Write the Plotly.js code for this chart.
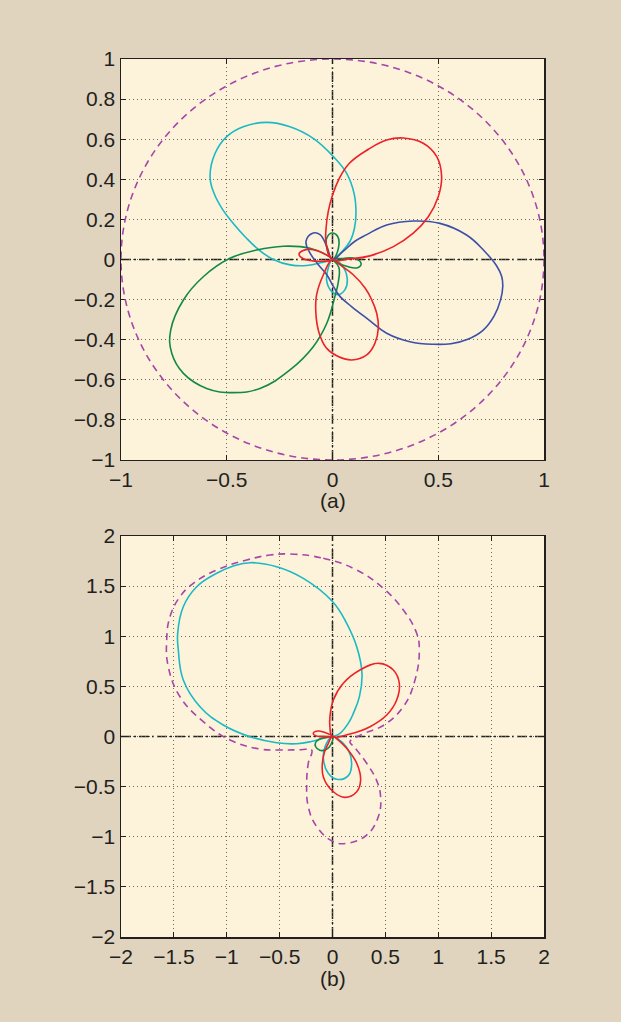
<!DOCTYPE html>
<html>
<head>
<meta charset="utf-8">
<script src="https://cdn.plot.ly/plotly-3.0.1.min.js"></script>
<style>
html,body{margin:0;padding:0;background:#e0d4be;}
#chart{width:621px;height:1022px;}
</style>
</head>
<body>
<div id="chart"></div>
<script>
// ---------- tick values / labels ----------
const xTickValsA = [-1, -0.5, 0, 0.5, 1];
const xTickTextA = ["\u22121", "\u22120.5", "0", "0.5", "1"];
const yTickValsA = [-1, -0.8, -0.6, -0.4, -0.2, 0, 0.2, 0.4, 0.6, 0.8, 1];
const yTickTextA = ["\u22121", "\u22120.8", "\u22120.6", "\u22120.4", "\u22120.2", "0", "0.2", "0.4", "0.6", "0.8", "1"];
const xTickValsB = [-2, -1.5, -1, -0.5, 0, 0.5, 1, 1.5, 2];
const xTickTextB = ["\u22122", "\u22121.5", "\u22121", "\u22120.5", "0", "0.5", "1", "1.5", "2"];
const yTickValsB = [-2, -1.5, -1, -0.5, 0, 0.5, 1, 1.5, 2];
const yTickTextB = ["\u22122", "\u22121.5", "\u22121", "\u22120.5", "0", "0.5", "1", "1.5", "2"];
const captions = ["(a)", "(b)"];

// ---------- panel (a) ----------
const radiusA = 1;

const blueAx = [0, 0.05, 0.106, 0.162, 0.256, 0.382, 0.508, 0.634, 0.72, 0.775, 0.8, 0.805, 0.795, 0.765, 0.71, 0.64, 0.56, 0.477, 0.366, 0.256, 0.17, 0.09, 0.035, 0.004, -0.027, -0.067, -0.106, -0.125, -0.091, -0.059, -0.027, 0];
const blueAy = [0, 0.04, 0.091, 0.124, 0.172, 0.192, 0.18, 0.122, 0.04, -0.03, -0.085, -0.135, -0.2, -0.28, -0.355, -0.398, -0.42, -0.423, -0.41, -0.368, -0.30, -0.235, -0.184, -0.134, -0.076, -0.026, 0.032, 0.091, 0.132, 0.124, 0.066, 0];

const redAx = [0, -0.03, -0.03, -0.02, 0.0, 0.03, 0.08, 0.17, 0.256, 0.335, 0.429, 0.493, 0.516, 0.5, 0.453, 0.382, 0.288, 0.177, 0.08, 0, null,
               0, 0.035, 0.098, 0.154, 0.185, 0.209, 0.217, 0.2, 0.162, 0.091, 0.02, -0.03, -0.065, -0.079, -0.075, -0.043, 0, null,
               0, -0.043, -0.091, -0.13, -0.158, -0.14, -0.106, -0.059, 0];
const redAy = [0, 0.08, 0.16, 0.24, 0.32, 0.40, 0.48, 0.55, 0.596, 0.606, 0.58, 0.513, 0.413, 0.313, 0.213, 0.131, 0.064, 0.018, 0.003, 0, null,
               0, -0.026, -0.076, -0.142, -0.2, -0.268, -0.34, -0.42, -0.476, -0.501, -0.48, -0.44, -0.36, -0.26, -0.175, -0.076, 0, null,
               0, 0.031, 0.049, 0.048, 0.028, 0.005, -0.005, -0.009, 0];

const cyanAx = [0, 0.045, 0.083, 0.104, 0.111, 0.102, 0.067, 0.004, -0.091, -0.201, -0.311, -0.422, -0.5, -0.555, -0.579, -0.56, -0.52, -0.469, -0.41, -0.35, -0.28, -0.2, -0.122, -0.05, 0, null,
                0, -0.02, -0.027, -0.004, 0.028, 0.059, 0.07, 0.043, 0];
const cyanAy = [0, 0.04, 0.091, 0.157, 0.23, 0.33, 0.43, 0.513, 0.604, 0.662, 0.684, 0.662, 0.613, 0.53, 0.413, 0.33, 0.25, 0.18, 0.11, 0.05, 0.0, -0.027, -0.03, -0.015, 0, null,
                0, -0.042, -0.109, -0.159, -0.175, -0.15, -0.1, -0.026, 0];

const greenAx = [0, -0.027, -0.106, -0.232, -0.358, -0.485, -0.611, -0.705, -0.765, -0.76, -0.705, -0.595, -0.469, -0.343, -0.201, -0.091, -0.027, 0.01, 0.028, 0.03, 0, null,
                 0, -0.027, -0.027, -0.004, 0.024, 0.028, 0, null,
                 0, 0.05, 0.098, 0.13, 0.135, 0.114, 0.067, 0.03, 0];
const greenAy = [0, 0.022, 0.056, 0.066, 0.047, 0.006, -0.086, -0.202, -0.352, -0.468, -0.568, -0.643, -0.664, -0.643, -0.551, -0.435, -0.318, -0.19, -0.109, -0.04, 0, null,
                 0, 0.057, 0.107, 0.132, 0.116, 0.057, 0, null,
                 0, 0.005, 0.007, -0.009, -0.026, -0.042, -0.034, -0.02, 0];

// ---------- panel (b) ----------
const cyanBx = [0, 0.071, 0.16, 0.197, 0.255, 0.279, 0.229, 0.134, 0.002, -0.276, -0.528, -0.78, -0.938, -1.095, -1.284, -1.411, -1.464, -1.458, -1.411, -1.253, -1.033, -0.78, -0.528, -0.339, -0.2, -0.087, 0, null,
                0, 0.06, 0.15, 0.181, 0.15, 0.04, -0.04, -0.085, -0.07, 0];
const cyanBy = [0, 0.032, 0.15, 0.231, 0.40, 0.63, 0.896, 1.129, 1.345, 1.578, 1.694, 1.734, 1.701, 1.628, 1.494, 1.295, 1.029, 0.863, 0.564, 0.297, 0.115, -0.002, -0.062, -0.072, -0.05, -0.018, 0, null,
                0, -0.03, -0.135, -0.267, -0.39, -0.427, -0.367, -0.234, -0.1, 0];

const redBx = [0, -0.025, -0.024, 0.008, 0.102, 0.26, 0.44, 0.575, 0.632, 0.607, 0.513, 0.355, 0.165, 0, null,
               0, 0.055, 0.134, 0.229, 0.266, 0.229, 0.118, 0.008, -0.087, -0.087, -0.04, 0, null,
               0, -0.06, -0.134, -0.182, -0.16, -0.102, 0];
const redBy = [0, 0.1, 0.198, 0.364, 0.531, 0.663, 0.73, 0.663, 0.53, 0.364, 0.214, 0.098, 0.025, 0, null,
               0, -0.035, -0.118, -0.267, -0.434, -0.551, -0.607, -0.551, -0.401, -0.201, -0.07, 0, null,
               0, 0.035, 0.055, 0.032, 0.008, 0.0, 0];

const greenBx = [0, -0.06, -0.12, -0.16, -0.16, -0.12, -0.06, -0.015, 0];
const greenBy = [0, -0.01, -0.025, -0.06, -0.1, -0.138, -0.13, -0.08, 0];

const envBx = [-0.4, -0.087, 0.229, 0.48, 0.67, 0.796, 0.821, 0.78, 0.67, 0.48, 0.3, 0.165, 0.2, 0.229, 0.323, 0.418, 0.455, 0.433, 0.323, 0.134, 0.008, -0.149, -0.229, -0.244, -0.229, -0.197, -0.3, -0.5, -0.686, -0.969, -1.222, -1.442, -1.553, -1.568, -1.537, -1.442, -1.316, -1.095, -0.811, -0.591, -0.4];
const envBy = [1.82, 1.778, 1.661, 1.478, 1.262, 1.029, 0.863, 0.564, 0.297, 0.11, 0.03, -0.052, -0.1, -0.135, -0.267, -0.44, -0.601, -0.8, -0.983, -1.066, -1.049, -0.9, -0.7, -0.467, -0.267, -0.135, -0.132, -0.135, -0.125, -0.035, 0.148, 0.397, 0.696, 0.963, 1.195, 1.395, 1.528, 1.661, 1.761, 1.81, 1.82];

// ---------- styles ----------
const C_BLUE = '#3c50a8', C_RED = '#ec2227', C_CYAN = '#1bb9c4', C_GREEN = '#12894a', C_MAG = '#a646a8';
const LW = 1.6;
function curve(x, y, color, xa, ya, dash) {
  return {x: x, y: y, xaxis: xa, yaxis: ya, type: 'scatter', mode: 'lines',
          line: {color: color, width: LW, shape: 'spline', smoothing: 1.2, dash: dash || 'solid'},
          connectgaps: false, hoverinfo: 'skip', showlegend: false};
}

const data = [
  curve(cyanAx, cyanAy, C_CYAN, 'x', 'y'),
  curve(greenAx, greenAy, C_GREEN, 'x', 'y'),
  curve(blueAx, blueAy, C_BLUE, 'x', 'y'),
  curve(redAx, redAy, C_RED, 'x', 'y'),
  curve(envBx, envBy, C_MAG, 'x2', 'y2', '7px,5px'),
  curve(cyanBx, cyanBy, C_CYAN, 'x2', 'y2'),
  curve(greenBx, greenBy, C_GREEN, 'x2', 'y2'),
  curve(redBx, redBy, C_RED, 'x2', 'y2')
];

const tickFont = {family: '"Liberation Sans", Arial, Helvetica, sans-serif', size: 21, color: '#231f20'};
function axis(extra) {
  return Object.assign({
    showline: true, linecolor: '#231f20', linewidth: 1.5, mirror: 'ticks',
    ticks: 'inside', ticklen: 5, tickwidth: 1, tickcolor: '#231f20',
    showgrid: true, gridcolor: '#6e6a60', gridwidth: 1, griddash: '1px,3px',
    zeroline: false, tickfont: tickFont, tickmode: 'array', fixedrange: true
  }, extra);
}

const dashDot = '10px,3px,2px,3px';
const layout = {
  width: 621, height: 1022,
  paper_bgcolor: '#e0d4be', plot_bgcolor: '#fdf3da',
  margin: {l: 121, r: 77, t: 59, b: 85},
  showlegend: false,
  xaxis: axis({domain: [0, 1], range: [-1, 1], tickvals: xTickValsA, ticktext: xTickTextA, anchor: 'y'}),
  yaxis: axis({domain: [0.5433, 1], range: [-1, 1], tickvals: yTickValsA, ticktext: yTickTextA, anchor: 'x'}),
  xaxis2: axis({domain: [0, 1], range: [-2, 2], tickvals: xTickValsB, ticktext: xTickTextB, anchor: 'y2'}),
  yaxis2: axis({domain: [0, 0.4567], range: [-2, 2], tickvals: yTickValsB, ticktext: yTickTextB, anchor: 'x2'}),
  shapes: [
    {type: 'line', xref: 'x domain', yref: 'y', x0: 0, x1: 1, y0: 0, y1: 0, line: {color: '#222', width: 1.5, dash: dashDot}, layer: 'below'},
    {type: 'line', xref: 'x', yref: 'y domain', x0: 0, x1: 0, y0: 0, y1: 1, line: {color: '#222', width: 1.5, dash: dashDot}, layer: 'below'},
    {type: 'line', xref: 'x2 domain', yref: 'y2', x0: 0, x1: 1, y0: 0, y1: 0, line: {color: '#222', width: 1.5, dash: dashDot}, layer: 'below'},
    {type: 'line', xref: 'x2', yref: 'y2 domain', x0: 0, x1: 0, y0: 0, y1: 1, line: {color: '#222', width: 1.5, dash: dashDot}, layer: 'below'},
    {type: 'circle', xref: 'x', yref: 'y', x0: -radiusA, x1: radiusA, y0: -radiusA, y1: radiusA, line: {color: C_MAG, width: LW, dash: '7px,5px'}}
  ],
  annotations: [
    {text: captions[0], xref: 'x', yref: 'paper', x: 0, y: 0.4977, showarrow: false, font: tickFont, xanchor: 'center', yanchor: 'middle'},
    {text: captions[1], xref: 'x2', yref: 'paper', x: 0, y: -0.0467, showarrow: false, font: tickFont, xanchor: 'center', yanchor: 'middle'}
  ]
};

Plotly.newPlot('chart', data, layout, {displayModeBar: false, staticPlot: true});
</script>
</body>
</html>
